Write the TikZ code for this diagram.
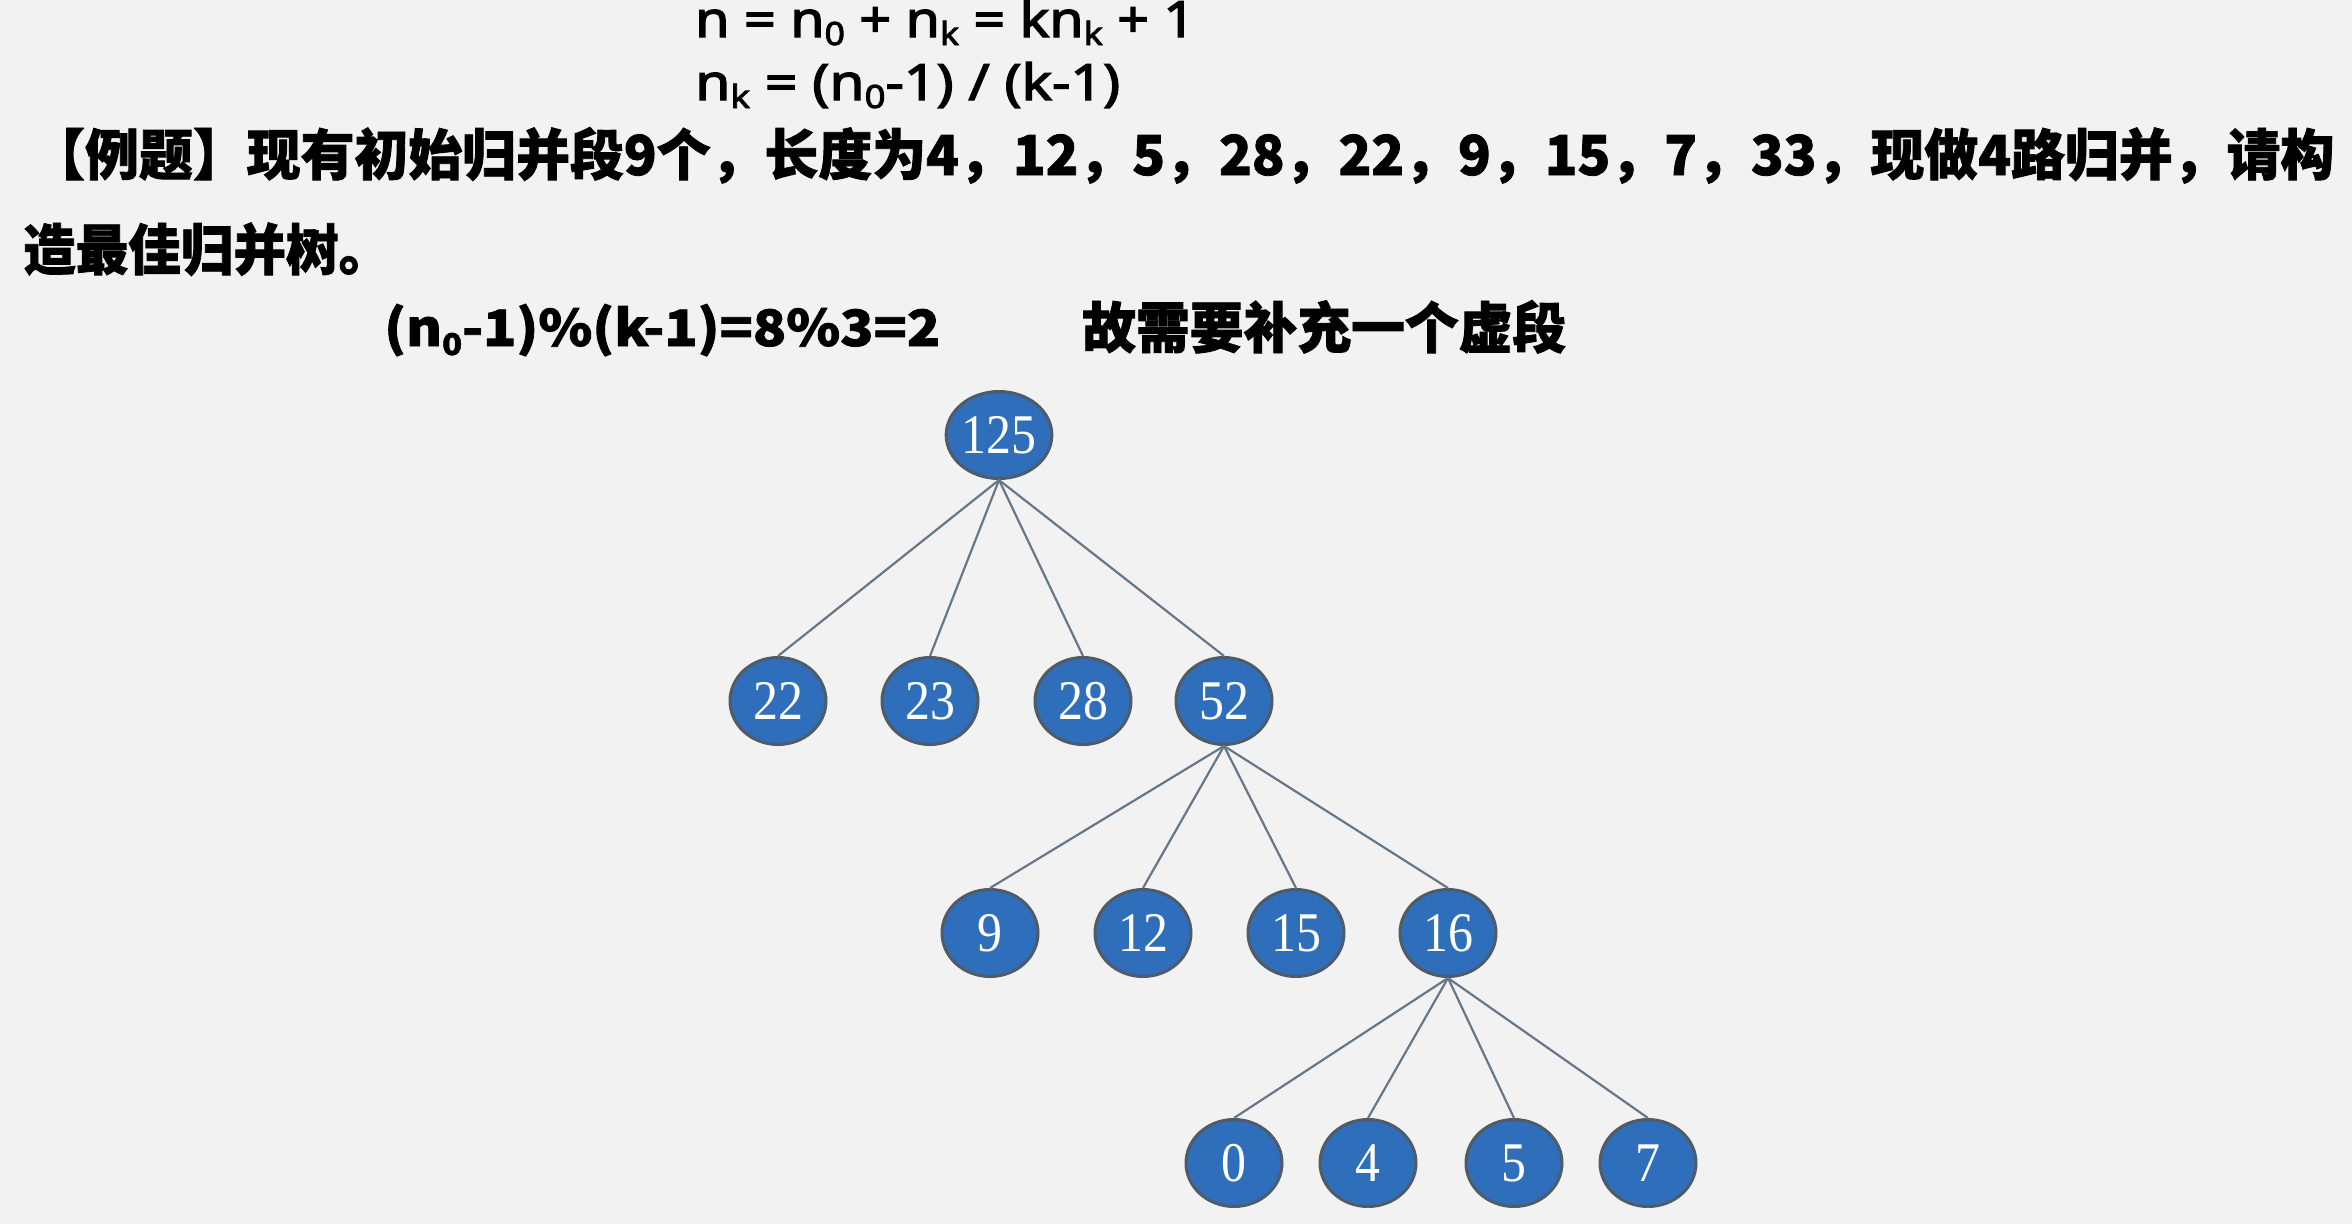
\documentclass[tikz,border=0pt]{standalone}
\usepackage{fontspec}
\usepackage{graphicx}
\usetikzlibrary{shapes.geometric}
\newfontfamily\cjkb{Noto Sans CJK SC}[BoldFeatures={FakeBold=1.5}]
\newfontfamily\sansf{Noto Sans}[FakeBold=2.5]
\newfontfamily\numf{Liberation Serif}[FakeStretch=0.89]
\definecolor{bgcol}{HTML}{F2F2F2}
\definecolor{nodefill}{HTML}{2F6EBA}
\definecolor{nodeborder}{HTML}{4F5B66}
\definecolor{edgecol}{HTML}{667887}
\newcommand\lowsub[1]{\raisebox{-8pt}{\fontsize{32}{32}\selectfont #1}}
\newcommand\boldsub[1]{\raisebox{-9pt}{\fontsize{30}{30}\selectfont #1}}
\newcommand\fitw[2]{\resizebox{#1}{\height}{#2}}
\begin{document}
\begin{tikzpicture}[x=1pt,y=-1pt,
  tnode/.style={ellipse, draw=nodeborder, line width=3pt, fill=nodefill,
    minimum width=96pt, minimum height=87pt, inner sep=0pt, text=white,
    font=\numf\fontsize{56}{56}\selectfont},
  edge/.style={draw=edgecol, line width=2.2pt},
  formula/.style={anchor=base west, inner sep=0pt, font=\sansf\fontsize{50}{50}\selectfont},
  cjktext/.style={anchor=base west, inner sep=0pt, font=\cjkb\bfseries\fontsize{55}{55}\selectfont}]
\fill[bgcol] (0,0) rectangle (2352,1224);
\useasboundingbox (0,0) rectangle (2352,1224);
% texts
\node[formula] (f1) at (695,37) {\fitw{500pt}{n = n\lowsub{0} + n\lowsub{k} = kn\lowsub{k} + 1}};
\node[formula] (f2) at (695,100) {\fitw{425pt}{n\lowsub{k} = (n\lowsub{0}-1) / (k-1)}};
\node[cjktext] (t1) at (31,175) {\fitw{2303pt}{【例题】现有初始归并段9个，长度为4，12，5，28，22，9，15，7，33，现做4路归并，请构}};
\node[cjktext] (t2) at (23,270) {\fitw{368pt}{造最佳归并树。}};
\node[cjktext, font=\cjkb\bfseries\fontsize{50}{50}\selectfont] (t3) at (384,346) {\fitw{556pt}{(n\boldsub{0}-1)\%(k-1)=8\%3=2}};
\node[cjktext] (t4) at (1082,348) {\fitw{484pt}{故需要补充一个虚段}};
% tree nodes
\node[tnode] (r) at (999,435) {125};
\node[tnode] (a1) at (778,701) {22};
\node[tnode] (a2) at (930,701) {23};
\node[tnode] (a3) at (1083,701) {28};
\node[tnode] (a4) at (1224,701) {52};
\node[tnode] (b1) at (990,933) {9};
\node[tnode] (b2) at (1143,933) {12};
\node[tnode] (b3) at (1296,933) {15};
\node[tnode] (b4) at (1448,933) {16};
\node[tnode] (c1) at (1234,1163) {0};
\node[tnode] (c2) at (1368,1163) {4};
\node[tnode] (c3) at (1514,1163) {5};
\node[tnode] (c4) at (1648,1163) {7};
% edges
\foreach \p/\c in {r/a1,r/a2,r/a3,r/a4,a4/b1,a4/b2,a4/b3,a4/b4,b4/c1,b4/c2,b4/c3,b4/c4}
  \draw[edge] (\p.south) -- (\c.north);
\end{tikzpicture}
\end{document}
